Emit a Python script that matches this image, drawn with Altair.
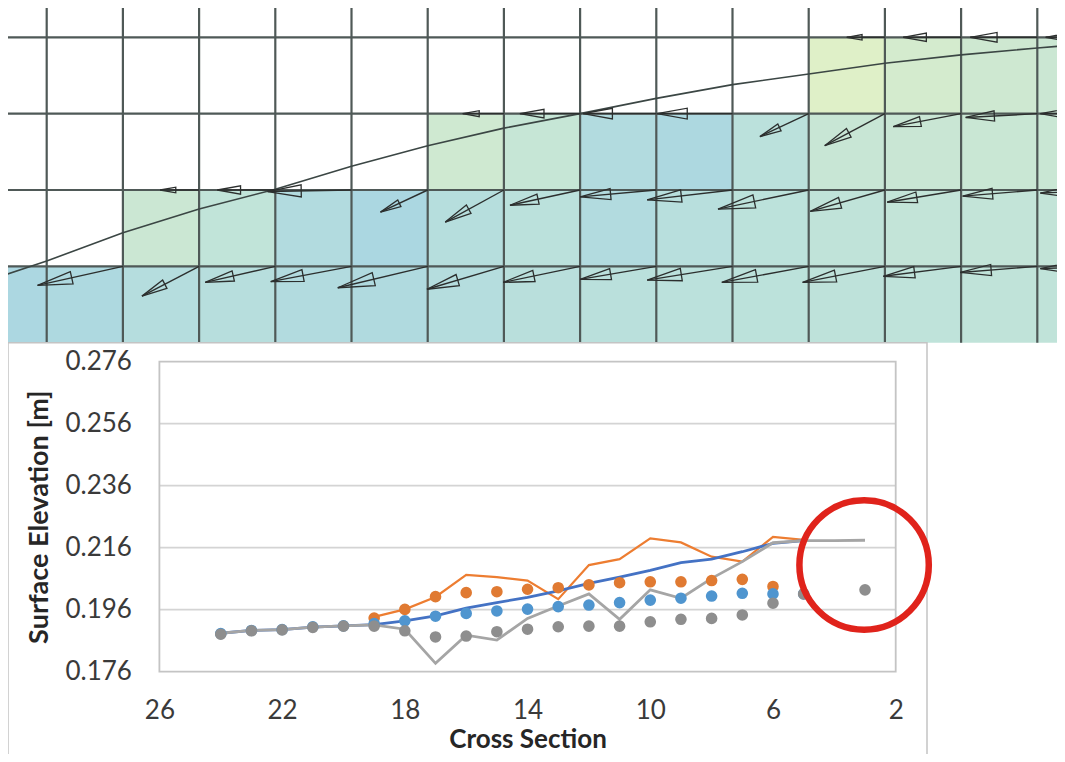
import math
import altair as alt
import pandas as pd

W, H = 1049, 746

# ------------------------------------------------------------------
# Bottom chart: surface elevation along the cross sections
# ------------------------------------------------------------------
x_ticks = [26, 22, 18, 14, 10, 6, 2]
y_ticks = [0.176, 0.196, 0.216, 0.236, 0.256, 0.276]
grid_elev = [0.196, 0.216, 0.236, 0.256]

orange_dot_cs = list(range(19, 5, -1))
orange_dot_elev = [0.1933, 0.1961, 0.2002, 0.2015, 0.2018, 0.2026, 0.2031, 0.2040, 0.2047, 0.2050,
                   0.2050, 0.2054, 0.2058, 0.2035]
blue_dot_cs = list(range(24, 4, -1))
blue_dot_elev = [0.1883, 0.1893, 0.1896, 0.1905, 0.1908, 0.1915, 0.1924, 0.1939, 0.1948, 0.1956,
                 0.1962, 0.1970, 0.1975, 0.1983, 0.1991, 0.1997, 0.2004, 0.2013, 0.2011, 0.2011]
gray_dot_cs = list(range(24, 4, -1)) + [3]
gray_dot_elev = [0.1881, 0.1892, 0.1895, 0.1903, 0.1907, 0.1907, 0.1892, 0.1872, 0.1875, 0.1889,
                 0.1897, 0.1905, 0.1907, 0.1907, 0.1921, 0.1929, 0.1932, 0.1943, 0.1981, 0.2011,
                 0.2024]
orange_line_cs = list(range(19, 4, -1))
orange_line_elev = [0.1937, 0.1961, 0.2001, 0.2072, 0.2065, 0.2054, 0.1994, 0.2104, 0.2123, 0.2190,
                    0.2177, 0.2131, 0.2115, 0.2195, 0.2185]
blue_line_cs = list(range(24, 4, -1))
blue_line_elev = [0.1884, 0.1893, 0.1896, 0.1904, 0.1908, 0.1912, 0.1924, 0.1940, 0.1965, 0.1983,
                  0.2000, 0.2021, 0.2045, 0.2065, 0.2087, 0.2112, 0.2123, 0.2147, 0.2174, 0.2183]
gray_line_cs = list(range(24, 2, -1))
gray_line_elev = [0.1884, 0.1893, 0.1896, 0.1904, 0.1908, 0.1911, 0.1897, 0.1787, 0.1878, 0.1862,
                  0.1932, 0.1972, 0.2011, 0.1929, 0.2024, 0.1997, 0.2061, 0.2115, 0.2176, 0.2183,
                  0.2183, 0.2184]
highlight_cs = [3.03]
highlight_elev = [0.2104]

# ------------------------------------------------------------------
# Top panel: computational grid, wetted cells, free surface, velocity vectors
# (x in grid columns, y in grid rows)
# ------------------------------------------------------------------
grid_cols = list(range(14))
grid_rows = [1, 2, 3, 4]

cell_left = (list(range(-1, 14)) + list(range(1, 14)) + list(range(5, 14)) + list(range(10, 14)))
cell_row = [0] * 15 + [1] * 13 + [2] * 9 + [3] * 4
cell_val = [0.06, 0.10, 0.20, 0.24, 0.16, 0.12, 0.20, 0.26, 0.28, 0.30, 0.32, 0.35, 0.37, 0.38, 0.38,
            0.55, 0.40, 0.15, 0.05, 0.22, 0.30, 0.15, 0.25, 0.32, 0.38, 0.42, 0.42, 0.42,
            0.62, 0.48, 0.15, 0.08, 0.30, 0.50, 0.52, 0.53, 0.53,
            0.88, 0.70, 0.60, 0.56]

surface_k = [-0.6, 0, 1, 2, 3, 4, 5, 6, 7, 8, 9, 10, 11, 12, 13, 13.5]
surface_j = [0.87, 1.07, 1.44, 1.75, 2.01, 2.31, 2.58, 2.81, 3.00, 3.20, 3.38, 3.52, 3.66, 3.77, 3.86, 3.90]

arrow_k = [11, 12, 13, 14,
           6, 7, 8, 9, 10, 11, 12, 13, 14,
           2, 3, 4, 5, 6, 7, 8, 9, 10, 11, 12, 13, 14,
           1, 2, 3, 4, 5, 6, 7, 8, 9, 10, 11, 12, 13, 14]
arrow_j = [4] * 4 + [3] * 9 + [2] * 13 + [1] * 14
arrow_u = [-0.50, -0.76, -0.88, -0.89,
           -0.54, -0.79, -0.96, -0.99, -0.64, -0.79, -0.89, -0.94, -0.96,
           -0.51, -0.76, -1.10, -0.62, -0.77, -0.92, -1.00, -1.12, -1.19, -0.98, -0.97, -0.98, -0.96,
           -1.12, -0.75, -0.92, -1.06, -1.18, -1.01, -1.01, -1.00, -1.12, -1.14, -1.08, -1.02, -1.01, -0.96]
arrow_v = [0, 0, 0, 0,
           0, 0, 0, 0, -0.30, -0.42, -0.17, -0.05, 0,
           0, 0, -0.02, -0.29, -0.42, -0.20, -0.09, -0.13, -0.25, -0.28, -0.16, -0.08, -0.04,
           -0.25, -0.39, -0.21, -0.20, -0.28, -0.30, -0.21, -0.17, -0.18, -0.21, -0.21, -0.13, -0.08, -0.03]

# ------------------------------------------------------------------
# Top panel layers
# ------------------------------------------------------------------
PX_K, PX_J = 76.2, 76.35
xs_t = alt.Scale(domain=[0, 13], range=[38.7, 1029.3], nice=False, zero=False)
ys_t = alt.Scale(domain=[0, 4], range=[334.7, 29.3], nice=False, zero=False)

cells = pd.DataFrame({"k0": cell_left, "j0": cell_row, "val": cell_val})
cells["k1"] = cells["k0"] + 1
cells["j1"] = cells["j0"] + 1

cell_layer = alt.Chart(cells).mark_rect(clip=True, strokeWidth=0).encode(
    x=alt.X("k0:Q", scale=xs_t, axis=None), x2="k1:Q",
    y=alt.Y("j0:Q", scale=ys_t, axis=None), y2="j1:Q",
    color=alt.Color("val:Q", legend=None,
                    scale=alt.Scale(domain=[0, 0.33, 0.67, 1],
                                    range=["#a8d5e2", "#bde2db", "#d2eacf", "#e6f3c4"],
                                    interpolate="rgb")),
)

vgrid = pd.DataFrame({"k": grid_cols})
vgrid["jlo"] = 0
vgrid["jhi"] = 4.6
vgrid_layer = alt.Chart(vgrid).mark_rule(clip=True, color="#4f5957", strokeWidth=2.2).encode(
    x=alt.X("k:Q", scale=xs_t, axis=None),
    y=alt.Y("jlo:Q", scale=ys_t, axis=None), y2="jhi:Q",
)
hgrid = pd.DataFrame({"j": grid_rows})
hgrid["klo"] = -1
hgrid["khi"] = 14
hgrid_layer = alt.Chart(hgrid).mark_rule(clip=True, color="#4f5957", strokeWidth=2.2).encode(
    y=alt.Y("j:Q", scale=ys_t, axis=None),
    x=alt.X("klo:Q", scale=xs_t, axis=None), x2="khi:Q",
)

surface = pd.DataFrame({"k": surface_k, "j": surface_j})
surface_layer = alt.Chart(surface).mark_line(clip=True, color="#3b4644", strokeWidth=1.6).encode(
    x=alt.X("k:Q", scale=xs_t, axis=None),
    y=alt.Y("j:Q", scale=ys_t, axis=None),
    order="k:Q",
)

arrows = pd.DataFrame({"k": arrow_k, "j": arrow_j, "u": arrow_u, "v": arrow_v})
arrows["kt"] = arrows["k"] + arrows["u"]
arrows["jt"] = arrows["j"] + arrows["v"]
ang, sz = [], []
for u, v in zip(arrow_u, arrow_v):
    dx, dy = u * PX_K, -v * PX_J
    ang.append(math.degrees(math.atan2(dy, dx)) % 360)
    hl = 0.4 * math.hypot(dx, dy)
    sz.append(hl * hl)
arrows["ang"] = ang
arrows["sz"] = sz

shaft_layer = alt.Chart(arrows).mark_rule(clip=True, color="#2c2f2e", strokeWidth=1.4).encode(
    x=alt.X("k:Q", scale=xs_t, axis=None), x2="kt:Q",
    y=alt.Y("j:Q", scale=ys_t, axis=None), y2="jt:Q",
)
HEAD = "M0,0 L-2,-0.36 L-2,0.36 Z"
head_layer = alt.Chart(arrows).mark_point(
    clip=True, shape=HEAD, filled=False, color="#2c2f2e", strokeWidth=1.3, opacity=1
).encode(
    x=alt.X("kt:Q", scale=xs_t, axis=None),
    y=alt.Y("jt:Q", scale=ys_t, axis=None),
    angle=alt.Angle("ang:Q", scale=None),
    size=alt.Size("sz:Q", scale=None, legend=None),
)

top = alt.layer(cell_layer, vgrid_layer, hgrid_layer, surface_layer, shaft_layer, head_layer)

# ------------------------------------------------------------------
# Bottom chart layers
# ------------------------------------------------------------------
X0, X1 = 151.4, 887.7
Y0, Y1 = 663.7, 353.7
xs_b = alt.Scale(domain=[26, 2], range=[X0, X1], nice=False, zero=False)
ys_b = alt.Scale(domain=[0.176, 0.276], range=[Y0, Y1], nice=False, zero=False)

FONT = "Lato"
x_axis = alt.Axis(values=x_ticks, format="d", orient="bottom", offset=-(H - Y0), zindex=2,
                  domain=False, ticks=False, tickSize=0, grid=False,
                  labelFont=FONT, labelFontSize=26, labelColor="#3a3a3a",
                  labelPadding=39, labelBaseline="middle", labelFlush=False, labelOverlap=False,
                  title="Cross Section", titleFont=FONT, titleFontSize=26, titleFontWeight="bold",
                  titleColor="#262626", titleX=(X0 + X1) / 2, titleY=68, titleBaseline="middle")
y_axis = alt.Axis(values=y_ticks, format=".3f", orient="left", offset=-X0, zindex=2,
                  domain=False, ticks=False, tickSize=0, grid=False,
                  labelFont=FONT, labelFontSize=26, labelColor="#3a3a3a",
                  labelPadding=28, labelBaseline="middle", labelFlush=False, labelOverlap=False,
                  title="Surface Elevation [m]", titleFont=FONT, titleFontSize=27,
                  titleFontWeight="bold", titleColor="#262626",
                  titleX=-120, titleY=(Y0 + Y1) / 2, titleBaseline="middle", titleAngle=270)


def bx(field):
    return alt.X(field, type="quantitative", scale=xs_b, axis=x_axis)


def by(field):
    return alt.Y(field, type="quantitative", scale=ys_b, axis=y_axis)


frame_layer = alt.Chart(pd.DataFrame({"a": [0]})).mark_rect(
    clip=True, fill=None, stroke="#c4c4c4", strokeWidth=1.5
).encode(x=alt.value(0), x2=alt.value(919), y=alt.value(334.7), y2=alt.value(760))

gridb = pd.DataFrame({"elev": grid_elev})
gridb["lo"] = x_ticks[0]
gridb["hi"] = x_ticks[-1]
grid_layer = alt.Chart(gridb).mark_rule(color="#d4d4d4", strokeWidth=1.8).encode(
    x=bx("lo"), x2="hi:Q", y=by("elev"))

box = pd.DataFrame({"lo": [x_ticks[0]], "hi": [x_ticks[-1]], "b": [y_ticks[0]], "t": [y_ticks[-1]]})
box_layer = alt.Chart(box).mark_rect(fill=None, stroke="#c4c4c4", strokeWidth=1.8).encode(
    x=bx("lo"), x2="hi:Q", y=by("b"), y2="t:Q")


def line(cs, elev, color, width):
    df = pd.DataFrame({"cs": cs, "elev": elev})
    return alt.Chart(df).mark_line(color=color, strokeWidth=width).encode(
        x=bx("cs"), y=by("elev"), order="cs:Q")


def dots(cs, elev, color):
    df = pd.DataFrame({"cs": cs, "elev": elev})
    return alt.Chart(df).mark_circle(color=color, size=135, opacity=1).encode(
        x=bx("cs"), y=by("elev"))


hl = pd.DataFrame({"cs": highlight_cs, "elev": highlight_elev})
circle_layer = alt.Chart(hl).mark_point(
    shape="circle", filled=False, size=16742, strokeWidth=6.5, color="#e0231b", opacity=1
).encode(x=bx("cs"), y=by("elev"))

bottom = alt.layer(
    frame_layer, grid_layer, box_layer,
    line(orange_line_cs, orange_line_elev, "#ED7D31", 2.2),
    line(blue_line_cs, blue_line_elev, "#4472C4", 2.8),
    line(gray_line_cs, gray_line_elev, "#A5A5A5", 2.8),
    dots(orange_dot_cs, orange_dot_elev, "#E07A32"),
    dots(blue_dot_cs, blue_dot_elev, "#4F95CF"),
    dots(gray_dot_cs, gray_dot_elev, "#8E8E8E"),
    circle_layer,
)

chart = alt.layer(top, bottom).resolve_scale(
    x="independent", y="independent", color="independent"
).properties(
    width=W, height=H, padding=0, background="white",
    autosize=alt.AutoSizeParams(type="none"),
).configure_view(stroke=None)

chart.save("out.html", embed_options={"renderer": "svg", "actions": False})
